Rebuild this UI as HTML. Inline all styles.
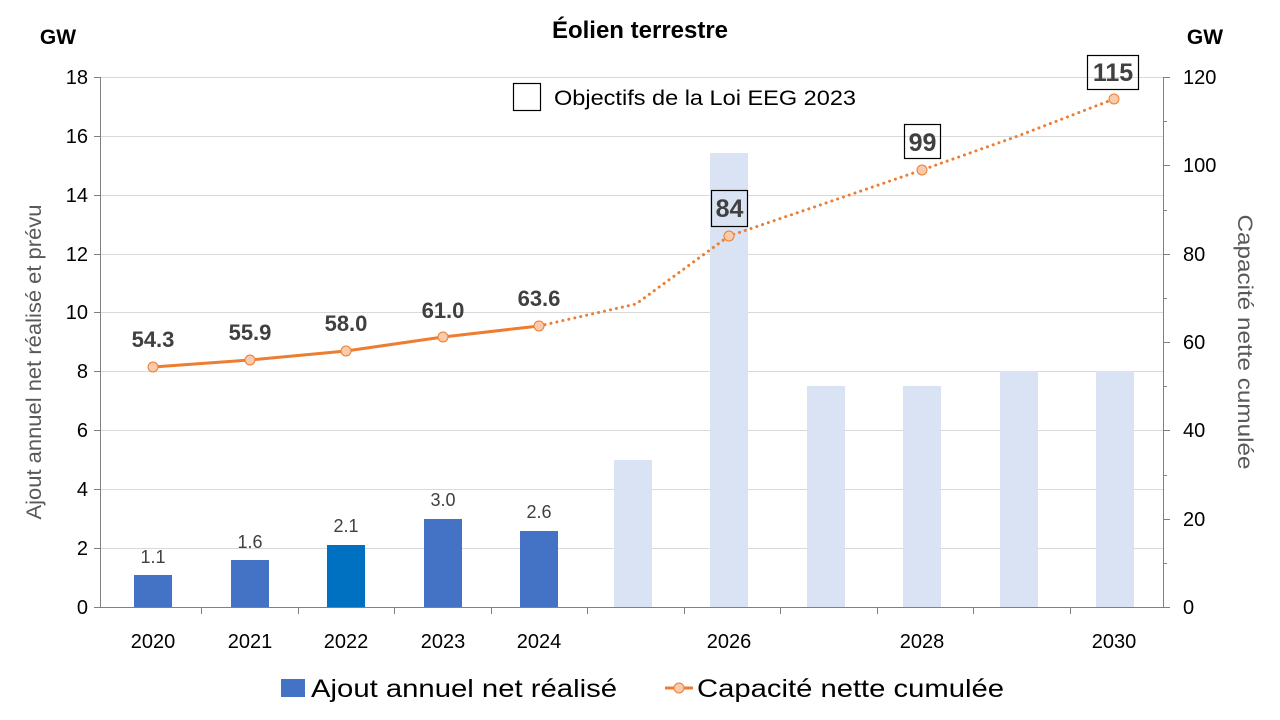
<!DOCTYPE html>
<html><head><meta charset="utf-8"><style>body{margin:0;background:#fff}svg{display:block;font-family:"Liberation Sans",sans-serif}</style></head><body>
<svg width="1280" height="720" viewBox="0 0 1280 720">
<g stroke="#d9d9d9" stroke-width="1">
<line x1="100" x2="1163" y1="77.5" y2="77.5"/><line x1="100" x2="1163" y1="136.5" y2="136.5"/><line x1="100" x2="1163" y1="195.5" y2="195.5"/><line x1="100" x2="1163" y1="254.5" y2="254.5"/><line x1="100" x2="1163" y1="312.5" y2="312.5"/><line x1="100" x2="1163" y1="371.5" y2="371.5"/><line x1="100" x2="1163" y1="430.5" y2="430.5"/><line x1="100" x2="1163" y1="489.5" y2="489.5"/><line x1="100" x2="1163" y1="548.5" y2="548.5"/>
</g>
<g stroke="#808080" stroke-width="1">
<line x1="100.5" x2="100.5" y1="77" y2="607"/><line x1="1163.5" x2="1163.5" y1="77" y2="607"/><line x1="100" x2="1163" y1="607.5" y2="607.5"/>
<line x1="94" x2="100" y1="77.5" y2="77.5"/><line x1="94" x2="100" y1="136.5" y2="136.5"/><line x1="94" x2="100" y1="195.5" y2="195.5"/><line x1="94" x2="100" y1="254.5" y2="254.5"/><line x1="94" x2="100" y1="312.5" y2="312.5"/><line x1="94" x2="100" y1="371.5" y2="371.5"/><line x1="94" x2="100" y1="430.5" y2="430.5"/><line x1="94" x2="100" y1="489.5" y2="489.5"/><line x1="94" x2="100" y1="548.5" y2="548.5"/><line x1="94" x2="100" y1="607.5" y2="607.5"/>
<line x1="1163" x2="1170" y1="77.5" y2="77.5"/><line x1="1163" x2="1170" y1="165.5" y2="165.5"/><line x1="1163" x2="1170" y1="254.5" y2="254.5"/><line x1="1163" x2="1170" y1="342.5" y2="342.5"/><line x1="1163" x2="1170" y1="430.5" y2="430.5"/><line x1="1163" x2="1170" y1="519.5" y2="519.5"/><line x1="1163" x2="1170" y1="607.5" y2="607.5"/>
<line x1="1163" x2="1167" y1="121.5" y2="121.5"/><line x1="1163" x2="1167" y1="210.5" y2="210.5"/><line x1="1163" x2="1167" y1="298.5" y2="298.5"/><line x1="1163" x2="1167" y1="386.5" y2="386.5"/><line x1="1163" x2="1167" y1="475.5" y2="475.5"/><line x1="1163" x2="1167" y1="563.5" y2="563.5"/>
<line x1="201.5" x2="201.5" y1="607" y2="614"/><line x1="298.5" x2="298.5" y1="607" y2="614"/><line x1="394.5" x2="394.5" y1="607" y2="614"/><line x1="491.5" x2="491.5" y1="607" y2="614"/><line x1="587.5" x2="587.5" y1="607" y2="614"/><line x1="684.5" x2="684.5" y1="607" y2="614"/><line x1="780.5" x2="780.5" y1="607" y2="614"/><line x1="877.5" x2="877.5" y1="607" y2="614"/><line x1="973.5" x2="973.5" y1="607" y2="614"/><line x1="1070.5" x2="1070.5" y1="607" y2="614"/>
</g>
<g fill="#4472c4">
<rect x="134" y="575" width="38" height="32"/><rect x="231" y="560" width="38" height="47"/><rect x="327" y="545" width="38" height="62" fill="#0070c0"/><rect x="424" y="519" width="38" height="88"/><rect x="520" y="531" width="38" height="76"/>
</g>
<g fill="#dae3f3">
<rect x="614" y="460" width="38" height="147"/><rect x="710" y="153" width="38" height="454"/><rect x="807" y="386" width="38" height="221"/><rect x="903" y="386" width="38" height="221"/><rect x="1000" y="371" width="38" height="236"/><rect x="1096" y="371" width="38" height="236"/>
</g>
<polyline points="153,367 250,360 346,351 443,337 539,326" fill="none" stroke="#ed7d31" stroke-width="3"/>
<polyline points="539,326 636,304 729,236 826,203 922,170 1018,136 1114,99" fill="none" stroke="#ed7d31" stroke-width="3" stroke-dasharray="0.1 6" stroke-linecap="round"/>
<g fill="#f8cbad" stroke="#ed7d31" stroke-width="1">
<circle cx="153" cy="367" r="5"/><circle cx="250" cy="360" r="5"/><circle cx="346" cy="351" r="5"/><circle cx="443" cy="337" r="5"/><circle cx="539" cy="326" r="5"/><circle cx="729" cy="236" r="5"/><circle cx="922" cy="170" r="5"/><circle cx="1114" cy="99" r="5"/>
</g>
<g fill="none" stroke="#000" stroke-width="1.2">
<rect x="711.5" y="190.5" width="36" height="36"/><rect x="904.5" y="124.5" width="36" height="34"/><rect x="1087.5" y="55.5" width="51" height="34"/><rect x="513.5" y="83.5" width="27" height="27"/>
</g>
<g font-size="22" font-weight="bold" fill="#404040" text-anchor="middle">
<text x="153" y="347">54.3</text><text x="250" y="340">55.9</text><text x="346" y="331">58.0</text><text x="443" y="318">61.0</text><text x="539" y="306">63.6</text>
</g>
<g font-size="25" font-weight="bold" fill="#404040" text-anchor="middle">
<text x="729.5" y="217">84</text><text x="922.5" y="151">99</text><text x="1113" y="81">115</text>
</g>
<g font-size="18" fill="#404040" text-anchor="middle">
<text x="153" y="563">1.1</text><text x="250" y="548">1.6</text><text x="346" y="532">2.1</text><text x="443" y="506">3.0</text><text x="539" y="518">2.6</text>
</g>
<g font-size="20" fill="#000" text-anchor="end">
<text x="88" y="84">18</text><text x="88" y="143">16</text><text x="88" y="202">14</text><text x="88" y="261">12</text><text x="88" y="319">10</text><text x="88" y="378">8</text><text x="88" y="437">6</text><text x="88" y="496">4</text><text x="88" y="555">2</text><text x="88" y="614">0</text>
</g>
<g font-size="20" fill="#000" text-anchor="start">
<text x="1183" y="84">120</text><text x="1183" y="172">100</text><text x="1183" y="261">80</text><text x="1183" y="349">60</text><text x="1183" y="437">40</text><text x="1183" y="526">20</text><text x="1183" y="614">0</text>
</g>
<g font-size="20" fill="#000" text-anchor="middle">
<text x="153" y="648">2020</text><text x="250" y="648">2021</text><text x="346" y="648">2022</text><text x="443" y="648">2023</text><text x="539" y="648">2024</text><text x="729" y="648">2026</text><text x="922" y="648">2028</text><text x="1114" y="648">2030</text>
</g>
<text x="640" y="38" font-size="24" font-weight="bold" text-anchor="middle">Éolien terrestre</text>
<text x="58" y="44" font-size="21" font-weight="bold" text-anchor="middle">GW</text>
<text x="1205" y="44" font-size="21" font-weight="bold" text-anchor="middle">GW</text>
<text x="554" y="105" font-size="21" textLength="302" lengthAdjust="spacingAndGlyphs">Objectifs de la Loi EEG 2023</text>
<text transform="translate(41,362) rotate(-90)" font-size="21" fill="#595959" text-anchor="middle" textLength="315" lengthAdjust="spacingAndGlyphs">Ajout annuel net réalisé et prévu</text>
<text transform="translate(1238,342) rotate(90)" font-size="21" fill="#595959" text-anchor="middle" textLength="255" lengthAdjust="spacingAndGlyphs">Capacité nette cumulée</text>
<rect x="281" y="679" width="24" height="18" fill="#4472c4"/>
<text x="311" y="697" font-size="25" textLength="306" lengthAdjust="spacingAndGlyphs">Ajout annuel net réalisé</text>
<line x1="665" x2="693" y1="688" y2="688" stroke="#ed7d31" stroke-width="3"/>
<circle cx="679" cy="688" r="5" fill="#f8cbad" stroke="#ed7d31"/>
<text x="697" y="697" font-size="25" textLength="307" lengthAdjust="spacingAndGlyphs">Capacité nette cumulée</text>
</svg>
</body></html>
